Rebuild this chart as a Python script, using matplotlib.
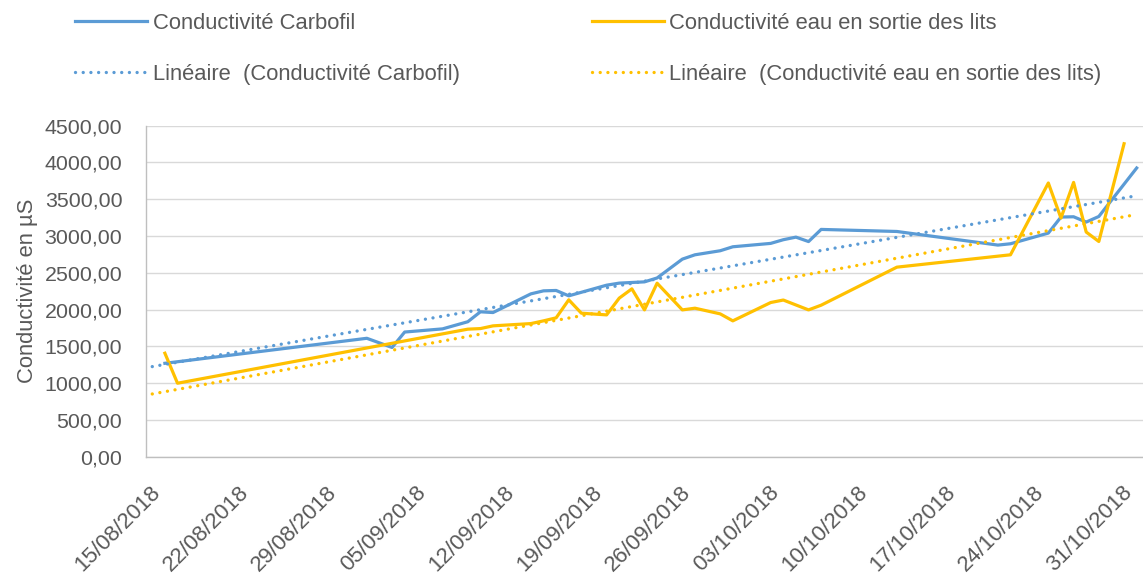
import numpy as np
import pandas as pd
import matplotlib
matplotlib.use("Agg")
import matplotlib.pyplot as plt
import matplotlib.dates as mdates
import matplotlib.transforms as mtrans
from matplotlib.ticker import FuncFormatter

# day offsets from 15/08/2018 and readings (µS)
start = pd.Timestamp("2018-08-15")

carbofil_days = [1, 17, 19, 20, 23, 25, 26, 27, 30, 31, 32, 33, 36, 37, 39, 40,
                 42, 43, 45, 46, 49, 50, 51, 52, 53, 59, 67, 68, 71, 72, 73, 74, 75, 78]
carbofil_vals = [1270, 1610, 1485, 1695, 1738, 1835, 1970, 1960, 2214, 2255, 2260, 2187,
                 2332, 2360, 2377, 2430, 2686, 2745, 2800, 2854, 2900, 2950, 2985, 2925,
                 3090, 3062, 2877, 2895, 3040, 3258, 3262, 3190, 3266, 3925]

eau_days = [1, 2, 25, 26, 27, 30, 31, 32, 33, 34, 36, 37, 38, 39, 40, 42, 43, 45, 46,
            49, 50, 52, 53, 59, 68, 71, 72, 73, 74, 75, 77]
eau_vals = [1407, 999, 1734, 1742, 1779, 1810, 1847, 1888, 2133, 1951, 1928, 2156, 2282,
            1996, 2359, 1996, 2019, 1942, 1847, 2096, 2130, 1996, 2060, 2577, 2745, 3721,
            3244, 3729, 3054, 2926, 4255]

# linear trendlines (end points)
trend_days = [0, 78]
trend_carbofil = [1225, 3548]
trend_eau = [853, 3293]

labels = ["Conductivité Carbofil", "Conductivité eau en sortie des lits",
          "Linéaire  (Conductivité Carbofil)", "Linéaire  (Conductivité eau en sortie des lits)"]

blue = "#5B9BD5"
yellow = "#FFC000"
txt = "#595959"

plt.rcParams['font.family'] = ['Liberation Sans', 'DejaVu Sans']


def to_x(days):
    # Excel date axis puts points in the middle of the day
    return [start + pd.Timedelta(days=d, hours=12) for d in days]


fig = plt.figure(figsize=(11.43, 5.83), dpi=100)
ax = fig.add_axes([0.1277, 0.2166, 0.8723, 0.5678])

l1, = ax.plot(to_x(carbofil_days), carbofil_vals, color=blue, lw=2.3, solid_joinstyle='round')
l2, = ax.plot(to_x(eau_days), eau_vals, color=yellow, lw=2.3, solid_joinstyle='round')
dots = (0, (0.01, 2.3))
t1, = ax.plot(to_x(trend_days), trend_carbofil, color=blue, lw=2.4, ls=dots, dash_capstyle='round')
t2, = ax.plot(to_x(trend_days), trend_eau, color=yellow, lw=2.4, ls=dots, dash_capstyle='round')

ax.set_xlim(start, start + pd.Timedelta(days=79))
ax.set_ylim(0, 4500)
ax.set_yticks(np.arange(0, 4501, 500))
ax.yaxis.set_major_formatter(FuncFormatter(lambda v, p: f"{v:.2f}".replace(".", ",")))

xt = pd.date_range(start, periods=12, freq="7D")
ax.set_xticks(xt)
ax.xaxis.set_major_formatter(mdates.DateFormatter("%d/%m/%Y"))

ax.grid(axis='y', color="#D9D9D9", lw=1.0)
ax.set_axisbelow(True)
for s in ["top", "right"]:
    ax.spines[s].set_visible(False)
for s in ["left", "bottom"]:
    ax.spines[s].set_color("#BFBFBF")
    ax.spines[s].set_linewidth(1.0)

ax.tick_params(axis='both', length=0, colors=txt)
ax.tick_params(axis='y', labelsize=15.4, pad=17)
ax.tick_params(axis='x', labelsize=16, pad=18)
off = mtrans.ScaledTranslation(4 / 100, 0, fig.dpi_scale_trans)
for lbl in ax.get_xticklabels():
    lbl.set_rotation(45)
    lbl.set_ha('right')
    lbl.set_rotation_mode('anchor')
    lbl.set_transform(lbl.get_transform() + off)

ax.set_ylabel("Conductivité en µS", fontsize=15.8, color=txt, labelpad=5)

fig.legend([l1, t1, l2, t2], [labels[0], labels[2], labels[1], labels[3]],
           loc='upper left', bbox_to_anchor=(75 / 1143, 1 - 13 / 583), ncol=2,
           frameon=False, fontsize=15.8, labelcolor=txt, handlelength=3.3,
           handletextpad=0.25, columnspacing=6.0, labelspacing=1.35,
           borderpad=0, borderaxespad=0)

fig.savefig("out.png", dpi=100)
